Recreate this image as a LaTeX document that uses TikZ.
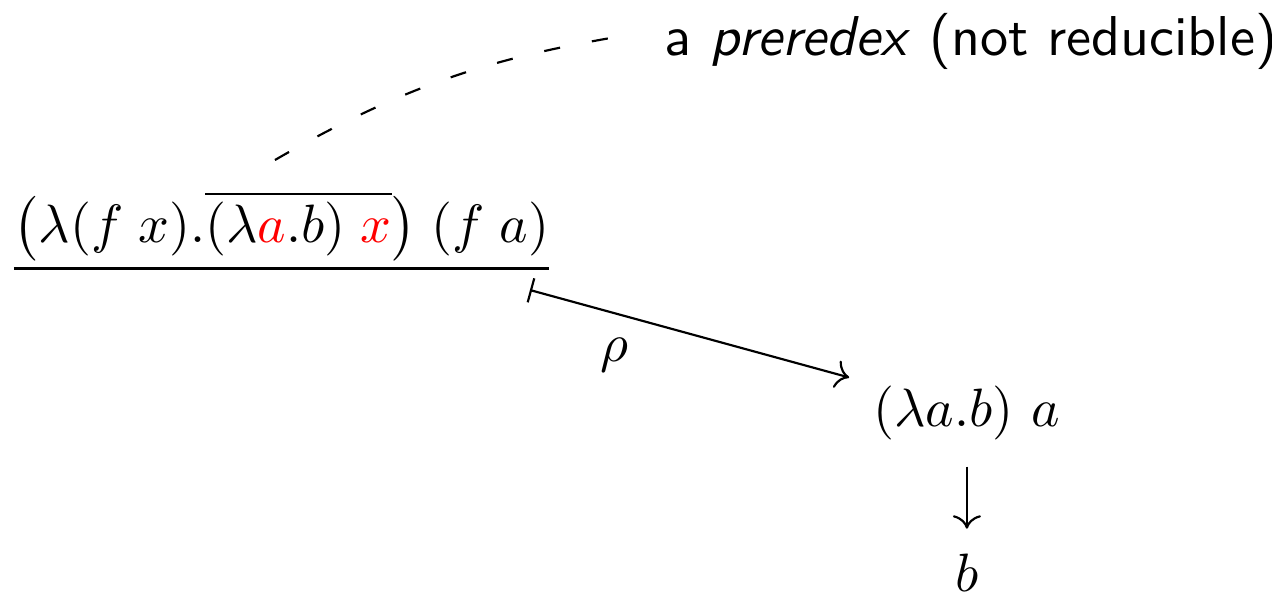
\documentclass[tikz,border=0pt]{standalone}
\usepackage{amsmath,amssymb}
\usepackage{xcolor}
\usetikzlibrary{arrows.meta,positioning,calc}
\tikzset{
  term/.style={anchor=base, inner sep=3.33pt},
  note/.style={font=\fontsize{10.4}{12}\selectfont\sffamily, anchor=base},
  reduct/.style={->, line width=0.4pt},
  link/.style={loosely dashed, line width=0.4pt},
  steplabel/.style={inner sep=1pt},
}

\begin{document}
\begin{tikzpicture}
\useasboundingbox (0,0) rectangle (8.276,-3.871);
\node[term] (redex) at (1.832,-1.575) {$\underline{\bigl(\lambda(f\;x).\overline{(\lambda\textcolor{red}{a}.b)\;\textcolor{red}{x}}\bigr)\;(f\;a)}$};
\node[note] (preredex) at (6.318,-0.358) {a \textit{preredex} (not reducible)};
\node[term] (contr) at (6.291,-2.778) {$(\lambda a.b)\ a$};
\node[term] (nf) at (6.291,-3.85) {$b$};
\coordinate (over) at (1.789,-1.041);
\coordinate (from) at (3.448,-1.887);
\draw[link, shorten >=6.5pt] (over) to[out=30,in=190] ($(preredex.west)+(0,0.06)$);
\draw[reduct, |->, shorten >=1pt] (from) -- node[steplabel, below=1.2mm, pos=.26] {$\rho$} ($(contr.north west)+(0,-0.075)$);
\draw[reduct, shorten <=1.3pt, shorten >=1.2pt] (contr) -- (nf);
\end{tikzpicture}
\end{document}
